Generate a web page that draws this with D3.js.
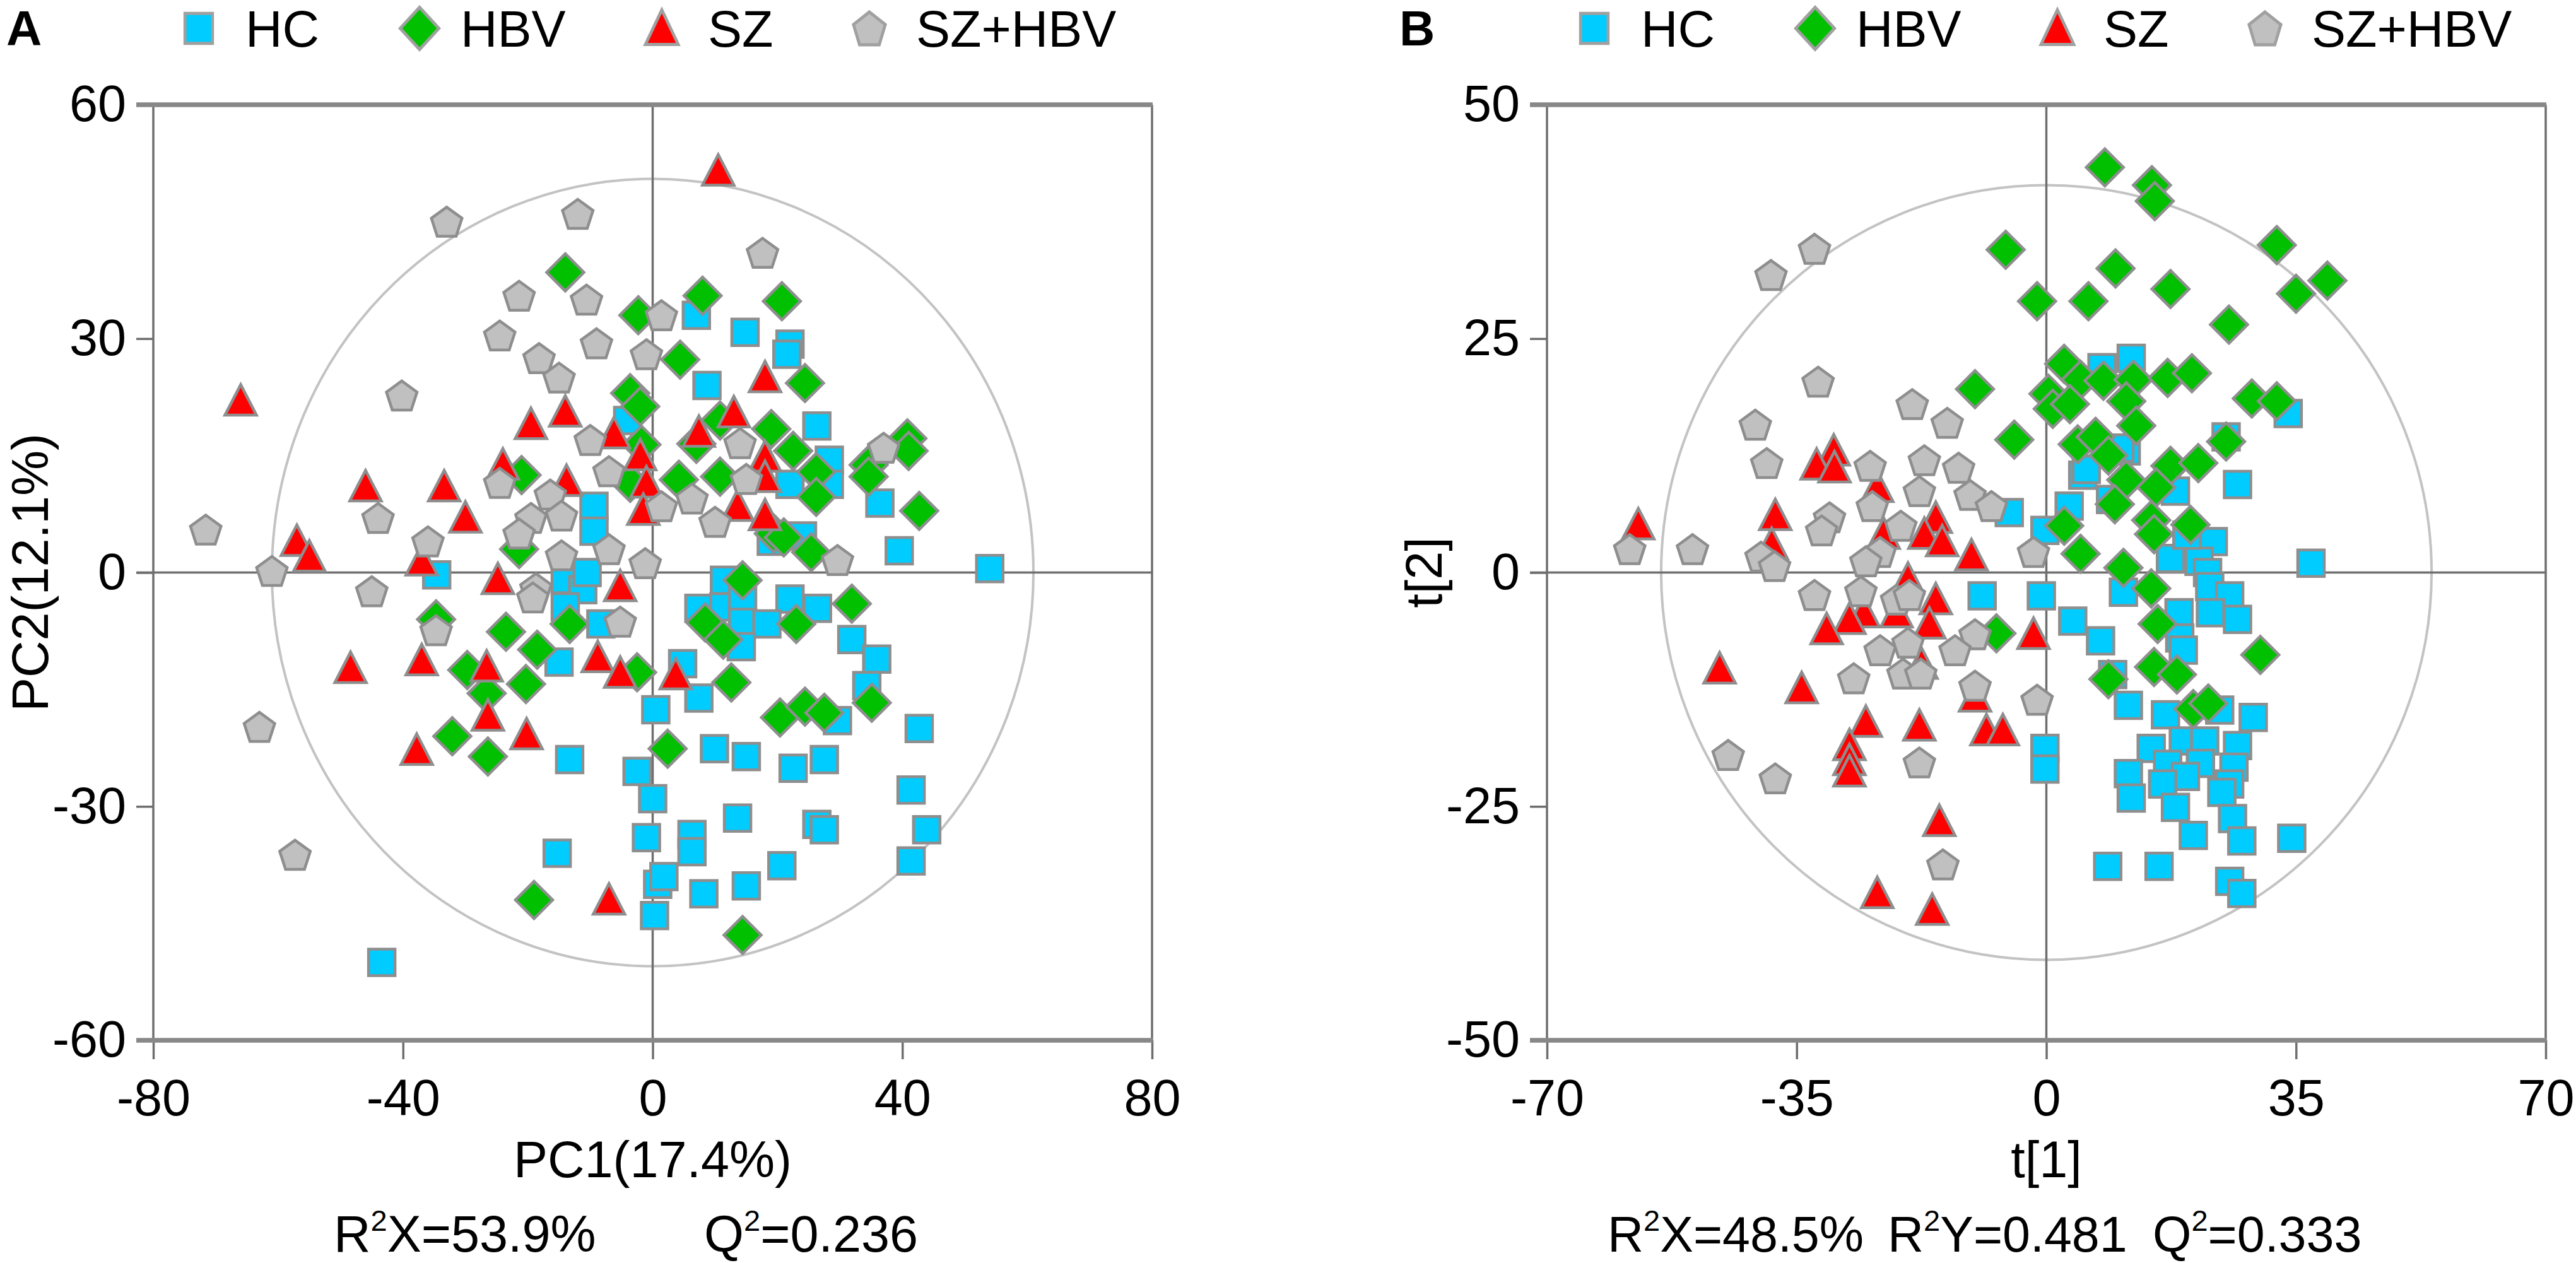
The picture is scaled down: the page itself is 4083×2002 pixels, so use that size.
<!DOCTYPE html>
<html><head><meta charset="utf-8">
<script src="https://cdn.jsdelivr.net/npm/d3@7"></script>
<style>body{margin:0;background:#fff}svg{display:block}text{font-family:"Liberation Sans",Arial,sans-serif;fill:#000}</style>
</head><body>
<svg id="c" width="4083" height="2002"></svg>
<script>
// ---------- DATA ----------
const groups = ["HC", "HBV", "SZ", "SZ+HBV"];
const groupColors = ["#00CCFF", "#00C000", "#FF0000", "#C0C0C0"];
const groupShapes = ["square", "diamond", "triangle", "pentagon"];

// Panel A (PCA)
const xTicksA = [-80, -40, 0, 40, 80];
const yTicksA = [-60, -30, 0, 30, 60];
const hcA = [[-9.4,8.5],[-9.4,5.3],[-4,19.5],[-34.6,-0.3],[-14,-0.9],[-11.2,-2.2],[-14,-4.4],[-10.5,0],[-8.3,-6.6],[-15,-11.5],[-13.3,-24],[0.5,-17.6],[-2.5,-25.5],[0,-29],[-1,-34],[-15.3,-36],[0.8,-40],[1.8,-39],[0.3,-44],[-43.4,-50],[7,33],[14.8,30.8],[22,29.3],[21.5,28],[8.7,24],[26.3,18.8],[28.3,14.4],[22,11.3],[28.3,11.3],[36.4,8.9],[24,4.7],[39.5,2.8],[54,0.5],[19,4],[11.5,-1],[7.4,-4.6],[11.4,-4.4],[14.4,-3.6],[22,-3.4],[26.4,-4.6],[14.4,-6.4],[18.3,-6.6],[14.2,-9.5],[31.9,-8.6],[35.9,-11.1],[34.3,-14.5],[4.8,-11.7],[7.4,-16.1],[29.6,-19],[42.7,-20],[9.9,-22.6],[15,-23.6],[22.5,-25.1],[27.5,-24],[41.4,-27.9],[13.6,-31.5],[26.3,-32.3],[27.5,-33],[6.3,-33.6],[6.3,-35.8],[43.9,-33],[41.4,-37],[20.7,-37.6],[8.2,-41.2],[15,-40.2]];
const hbvA = [[-14,38.5],[-2.3,33],[-3.6,23],[-2,21.3],[-1.8,16.4],[-3.6,11.5],[-21,12.5],[-21.4,3],[8,35.5],[20.7,34.8],[4.4,27.3],[24.4,24.3],[7,16.5],[10.8,19.5],[19,18.4],[22.5,15.6],[26.2,12.9],[40.8,17.2],[41,15.6],[34.6,13.8],[34.6,12.3],[4.2,11.9],[10.8,12.3],[26.2,9.7],[42.7,7.9],[19.4,5],[21,4.5],[25.4,2.6],[-34.7,-6],[-23.5,-7.6],[-13.3,-6.6],[-18.5,-9.9],[-29.7,-12.5],[-20.3,-14.3],[-26.6,-15.5],[-2.5,-12.8],[-32.1,-21],[-26.4,-23.6],[-19,-42],[14.4,-1],[31.9,-4],[8.4,-6.4],[23,-6.6],[11.3,-8.6],[35.1,-16.7],[12.6,-14.1],[20.4,-18.6],[24.4,-17.2],[27.5,-18],[2.4,-22.6],[14.4,-46.5]];
const szA = [[-66,22],[-19.5,19],[-14,20.6],[-6.2,17.8],[-2,15],[-24,13.8],[-46,11],[-33.4,11],[-13.8,11.7],[-1,11.5],[-30,7],[-1.5,8],[-57,4],[-55,2],[-37,1.5],[10.5,51.5],[18,25],[13,20.5],[7.4,18],[18,14.8],[18,12.2],[13.6,8.5],[18,7.3],[-24.8,-0.9],[-5.2,-1.8],[-48.4,-12.3],[-37,-11.3],[-26.6,-12.1],[-8.8,-10.9],[-5.2,-12.9],[-26.4,-18.4],[-20.2,-20.8],[-37.8,-22.8],[-7,-42],[3.7,-13.1]];
const szhbvA = [[-33,45],[-12,46],[-21.4,35.5],[-10.6,35],[-24.5,30.4],[-9,29.4],[-18.2,27.5],[-15,25],[-1,28],[1.4,33],[-40.2,22.7],[-10,17],[-7,13],[-24.5,11.5],[-16.4,10],[-19.5,7],[-14.6,7.3],[-21.4,5],[-44,7],[-71.6,5.5],[-36,4],[-7,3],[-14.6,2.2],[-61,0.2],[-1.2,1.2],[17.6,41],[14,16.6],[37,16],[15,12],[6.3,9.5],[1.4,8.5],[10,6.5],[29.6,1.6],[-45,-2.4],[-18.7,-2],[-19.2,-3.2],[-5.2,-6.3],[-34.7,-7.4],[-63,-19.8],[-57.3,-36.2]];
const ellipseA = [61, 50.5];

// Panel B (PLS-DA)
const xTicksB = [-70, -35, 0, 35, 70];
const yTicksB = [-50, -25, 0, 25, 50];
const hcB = [[-5.2,6.4],[11.9,22.9],[7.8,21.9],[33.9,17],[11.2,13],[25.2,14.5],[5.1,10.4],[18.1,8.7],[26.8,9.4],[3.2,7.1],[9,7.8],[-0.2,4.5],[23.4,3.3],[17.4,1.5],[37.1,1],[21.4,1.2],[22.6,0],[19.7,4],[5.6,11],[10.3,13.3],[-9,-2.5],[-0.7,-2.5],[3.7,-5.2],[7.6,-7.3],[10.8,-2.1],[22.9,-1.5],[25.7,-2.5],[23,-4.3],[26.8,-5],[18.6,-4.3],[18.7,-7],[19.2,-8.3],[9.3,-10.9],[11.5,-14.2],[16.7,-15.2],[24.3,-14.7],[29,-15.5],[-0.2,-18.8],[-0.2,-21],[14.7,-18.8],[19.2,-18],[22.2,-18],[26.8,-18.5],[21.6,-20.4],[17,-20.5],[11.5,-21.5],[19.5,-21.8],[26.3,-20.8],[25.7,-22.6],[16.3,-22.6],[11.9,-24.1],[24.6,-23.5],[18.1,-25.1],[26.1,-26.3],[20.6,-28.1],[27.4,-28.7],[34.4,-28.4],[8.6,-31.4],[15.8,-31.4],[25.7,-33],[27.4,-34.3]];
const hbvB = [[-5.7,34.5],[-10,19.6],[-4.5,14.2],[-7,-6.5],[8.2,43.3],[14.8,41.4],[15.2,39.7],[32.3,35],[9.7,32.5],[17.4,30.3],[-1.3,29],[5.9,29],[39.4,31.2],[35,29.8],[25.6,26.5],[2.5,22.3],[4.8,20.6],[8,20.5],[12.2,20.6],[17,20.8],[20.4,21.3],[0.3,19.1],[11.2,18.3],[0.9,17.5],[3.3,18],[28.8,18.6],[32.3,18.3],[12.6,15.7],[4.4,13.7],[6.9,14.5],[8.7,12.5],[25.2,14],[17.4,11.4],[21.3,11.7],[11.2,9.9],[15.4,9.1],[9.6,7.3],[2.5,5],[14.7,5.6],[15.1,4.1],[20.2,5.1],[4.8,2],[10.8,0.5],[14.7,-1.7],[15.6,-5.5],[30,-8.8],[15.1,-10.1],[18.3,-10.9],[8.7,-11.4],[20.6,-14.6],[22.7,-14]];
const szB = [[-29.8,13],[-32.2,11.5],[-29.7,11.2],[-23.7,9.1],[-38,6.1],[-57.2,5.1],[-22.8,4.1],[-15.5,5.8],[-17.1,4.1],[-14.6,3.3],[-10.5,1.8],[-38.5,3],[-19.4,-0.7],[-15.5,-2.9],[-25.6,-4.3],[-27.6,-5],[-21,-4.3],[-30.8,-6.1],[-16.4,-5.5],[-45.8,-10.3],[-34.3,-12.4],[-17.5,-9.8],[-10,-13.3],[-25.3,-16],[-17.8,-16.4],[-8.4,-16.9],[-6.1,-16.9],[-27.6,-18.5],[-27.6,-20.1],[-27.6,-21.3],[-15,-26.6],[-23.7,-34.3],[-16,-36.1],[-1.8,-6.6]];
const szhbvB = [[-32.5,34.6],[-38.6,31.8],[-32,20.4],[-18.8,18],[-13.9,16],[-40.8,15.8],[-39.2,11.7],[-24.7,11.4],[-17.1,12],[-12.3,11.2],[-17.8,8.7],[-10.7,8.3],[-7.7,7.1],[-24.4,7.1],[-30.4,5.9],[-31.5,4.5],[-58.4,2.5],[-49.6,2.5],[-20.4,5],[-23.3,2.2],[-25.3,1.2],[-40,1.7],[-38.1,0.7],[-1.8,2.2],[-32.5,-2.4],[-26,-2],[-21,-2.9],[-19.2,-2.4],[-10,-6.6],[-23.3,-8.3],[-19.4,-7.5],[-12.8,-8.3],[-27,-11.3],[-20.1,-10.8],[-17.6,-10.8],[-10,-12.1],[-44.6,-19.5],[-38,-22],[-17.8,-20.3],[-14.5,-31.2],[-1.3,-13.6]];
const ellipseB = [54, 41.4];

// ---------- DRAWING ----------
const svg = d3.select("#c");
const FONT = 81;
const STROKE = "#8e8e8e";

function shapePath(s) {
  if (s === "square") return "M-21,-21H21V21H-21Z";
  if (s === "diamond") return "M0,-29.5L29.5,0L0,29.5L-29.5,0Z";
  if (s === "triangle") return "M0,-26L25,22.5H-25Z";
  const r = 25.5, off = (r - r * Math.cos(Math.PI / 5)) / 2;
  const pts = d3.range(5).map(k => {
    const a = -Math.PI / 2 + k * 2 * Math.PI / 5;
    return [r * Math.cos(a), r * Math.sin(a) + off];
  });
  return "M" + pts.map(p => p[0].toFixed(2) + "," + p[1].toFixed(2)).join("L") + "Z";
}

function panel(cfg) {
  const x = d3.scaleLinear().domain(d3.extent(cfg.xTicks)).range([cfg.left, cfg.left + 1583]);
  const y = d3.scaleLinear().domain(d3.extent(cfg.yTicks)).range([1649, 166]);
  const g = svg.append("g");
  const [x0, x1] = x.range(), [yb, yt] = y.range();

  g.append("ellipse").attr("cx", x(0)).attr("cy", y(0))
    .attr("rx", x(cfg.ell[0]) - x(0)).attr("ry", y(0) - y(cfg.ell[1]))
    .attr("fill", "none").attr("stroke", "#c3c3c3").attr("stroke-width", 4);

  const fmt = d => String(d);
  const ax = g.append("g").attr("transform", `translate(0,${yb})`)
    .call(d3.axisBottom(x).tickValues(cfg.xTicks).tickSize(30).tickPadding(31).tickFormat(fmt));
  const ay = g.append("g").attr("transform", `translate(${x0},0)`)
    .call(d3.axisLeft(y).tickValues(cfg.yTicks).tickSize(27).tickPadding(16).tickFormat(fmt));
  [ax, ay].forEach(a => {
    a.select(".domain").remove();
    a.selectAll(".tick line").attr("stroke", "#6e6e6e").attr("stroke-width", 3.5);
    a.selectAll(".tick text").attr("font-size", FONT).attr("font-family", '"Liberation Sans",Arial,sans-serif').attr("fill", "#000");
  });

  [x0, x(0), x1].forEach(v => g.append("line").attr("x1", v).attr("x2", v).attr("y1", yt).attr("y2", yb)
    .attr("stroke", "#6e6e6e").attr("stroke-width", 3.5));
  g.append("line").attr("x1", x0 - 27).attr("x2", x1).attr("y1", y(0)).attr("y2", y(0))
    .attr("stroke", "#6e6e6e").attr("stroke-width", 3.5);
  [yt, yb].forEach(v => g.append("line").attr("x1", x0 - 27).attr("x2", x1 + 1).attr("y1", v).attr("y2", v)
    .attr("stroke", "#888").attr("stroke-width", 7.5));

  cfg.series.forEach((pts, gi) => {
    g.append("g").selectAll("path").data(pts).join("path")
      .attr("d", shapePath(groupShapes[gi]))
      .attr("transform", d => `translate(${x(d[0])},${y(d[1])})`)
      .attr("fill", groupColors[gi]).attr("stroke", STROKE).attr("stroke-width", 4.5)
      .attr("stroke-linejoin", "miter");
  });

  g.append("text").attr("x", x(0)).attr("y", 1866).attr("text-anchor", "middle")
    .attr("font-size", FONT).text(cfg.xTitle);
  g.append("text").attr("transform", `translate(${x0 - 167},${y(0)}) rotate(-90)`)
    .attr("text-anchor", "middle").attr("font-size", FONT).text(cfg.yTitle);

  g.append("text").attr("x", cfg.letterX).attr("y", 72).attr("font-size", 78)
    .attr("font-weight", "bold").text(cfg.letter);

  const lm = [315, 665, 1049, 1378], lt = [389, 730, 1122, 1452];
  groups.forEach((name, i) => {
    g.append("path").attr("d", shapePath(groupShapes[i]))
      .attr("transform", `translate(${lm[i] + cfg.legOff},45) scale(1.04,1.13)`)
      .attr("fill", groupColors[i]).attr("stroke", "#a0a0a0").attr("stroke-width", 4.5);
    g.append("text").attr("x", lt[i] + cfg.legOff).attr("y", 74).attr("font-size", FONT).text(name);
  });

  cfg.stats.forEach(s => {
    const t = g.append("text").attr("x", s.x).attr("y", 1984).attr("font-size", cfg.statFont);
    t.append("tspan").text(s.a);
    t.append("tspan").attr("dy", -33).attr("font-size", 47).text("2");
    t.append("tspan").attr("dy", 33).text(s.b);
  });
}

panel({
  left: 243, xTicks: xTicksA, yTicks: yTicksA, ell: ellipseA,
  series: [hcA, hbvA, szA, szhbvA],
  xTitle: "PC1(17.4%)", yTitle: "PC2(12.1%)", letter: "A", letterX: 10, legOff: 0, statFont: 81,
  stats: [{x: 529, a: "R", b: "X=53.9%"}, {x: 1116, a: "Q", b: "=0.236"}]
});
panel({
  left: 2452, xTicks: xTicksB, yTicks: yTicksB, ell: ellipseB,
  series: [hcB, hbvB, szB, szhbvB],
  xTitle: "t[1]", yTitle: "t[2]", letter: "B", letterX: 2218, legOff: 2212, statFont: 79,
  stats: [{x: 2548, a: "R", b: "X=48.5%"}, {x: 2992, a: "R", b: "Y=0.481"}, {x: 3412, a: "Q", b: "=0.333"}]
});
</script>
</body></html>
